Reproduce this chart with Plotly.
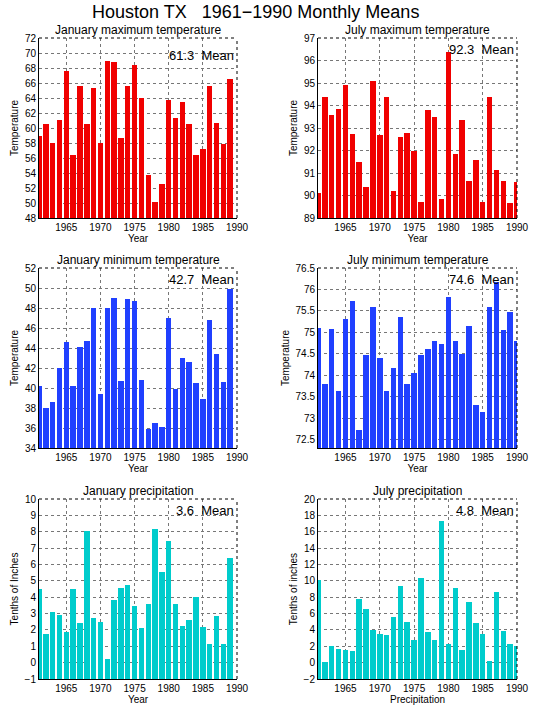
import plotly.graph_objects as go
from plotly.subplots import make_subplots

years = list(range(1961, 1991))

# January values: no 1990 bar in the reference
jan_max = [58.9, 60.6, 58.0, 61.1, 67.6, 56.4, 65.6, 60.6, 65.4, 58.0,
           69.0, 68.8, 58.7, 65.6, 68.4, 64.0, 53.7, 50.2, 52.6, 63.8,
           61.3, 63.5, 60.6, 56.4, 57.2, 65.6, 60.7, 57.9, 66.6, None]
jul_max = [90.1, 94.4, 93.56, 93.83, 94.9, 92.75, 91.5, 90.36, 95.07, 92.67,
           94.4, 90.2, 92.58, 92.8, 91.96, 89.7, 93.8, 93.47, 89.83, 96.36,
           91.83, 93.37, 90.63, 91.58, 89.7, 94.4, 91.12, 90.63, 89.65, 90.59]
jan_min = [40.17, 38.0, 38.57, 41.97, 44.57, 40.17, 44.07, 44.67, 48.0, 39.37,
           48.03, 48.97, 40.67, 48.9, 48.7, 40.8, 35.9, 36.5, 36.1, 47.0,
           39.93, 43.0, 42.6, 40.5, 38.93, 46.8, 43.4, 40.6, 49.9, None]
jul_min = [75.1, 73.8, 75.08, 73.62, 75.31, 75.73, 72.73, 74.46, 75.59, 74.39,
           73.62, 74.16, 75.36, 73.8, 74.06, 74.48, 74.62, 74.8, 74.72, 75.82,
           74.8, 74.5, 75.15, 73.31, 73.13, 75.59, 76.17, 75.05, 75.47, 74.8]
jan_prcp = [4.47, 1.76, 3.1, 2.92, 1.88, 4.51, 2.43, 8.04, 2.73, 2.49,
            0.22, 3.83, 4.55, 4.73, 3.47, 2.12, 3.59, 8.16, 5.55, 7.43,
            3.59, 2.24, 2.61, 4.0, 2.18, 1.14, 2.84, 1.14, 6.4, None]
jul_prcp = [10.04, 0.08, 2.03, 1.67, 1.54, 1.42, 7.76, 6.54, 3.98, 3.5,
            3.37, 5.57, 9.35, 4.96, 2.76, 10.33, 3.74, 2.76, 17.28, 2.28,
            9.1, 1.54, 7.4, 4.84, 3.5, 0.2, 8.62, 3.86, 2.28, 2.03]

titles = ["January maximum temperature", "July maximum temperature",
          "January minimum temperature", "July minimum temperature",
          "January precipitation", "July precipitation"]
mean_labels = ["61.3  Mean", "92.3  Mean", "42.7  Mean",
               "74.6  Mean", "3.6  Mean", "4.8  Mean"]
ylabels = ["Temperature", "Temperature", "Temperature", "Temperature",
           "Tenths of Inches", "Tenths of inches"]
xlabels = ["Year", "Year", "Year", "Year", "Year", "Precipitation"]
xticks = [1965, 1970, 1975, 1980, 1985, 1990]

RED = "rgb(240,0,0)"
BLUE = "rgb(32,64,255)"
CYAN = "rgb(0,204,204)"

W, H = 535, 711
FONT = "Liberation Sans"

# (values, color, ymin, ymax, dtick)
panels = [
    (jan_max, RED, 48, 72, 2),
    (jul_max, RED, 89, 97, 1),
    (jan_min, BLUE, 34, 52, 2),
    (jul_min, BLUE, 72.3, 76.5, 0.5),
    (jan_prcp, CYAN, -1, 10, 1),
    (jul_prcp, CYAN, -2, 20, 2),
]

# plot areas in pixels: (left, right), (top, bottom)
cols_px = [(39, 237), (318, 517)]
rows_px = [(38, 218), (268, 448), (499, 679)]
mean_dy = [18, 11, 11, 11, 11, 11]

fig = make_subplots(rows=3, cols=2)

annotations = []
shapes = []
for i, (vals, color, lo, hi, dt) in enumerate(panels):
    r, c = i // 2 + 1, i % 2 + 1
    x0, x1 = cols_px[c - 1]
    t, b = rows_px[r - 1]
    xd = [x0 / W, x1 / W]
    yd = [1 - b / H, 1 - t / H]

    fig.add_trace(
        go.Bar(
            x=years,
            y=[None if v is None else v - lo for v in vals],
            base=lo,
            width=0.8,
            marker=dict(color=color, line=dict(width=0)),
            showlegend=False,
        ),
        row=r, col=c,
    )

    fig.update_xaxes(
        domain=xd, range=[1961, 1990], tickvals=xticks,
        showgrid=True, gridcolor="#777", griddash="dot", gridwidth=1,
        showline=True, linecolor="black", linewidth=1, ticks="",
        zeroline=False, automargin=False,
        tickfont=dict(family=FONT, size=10, color="black"),
        title=dict(text=xlabels[i], standoff=0,
                   font=dict(family=FONT, size=10, color="black")),
        row=r, col=c,
    )
    fig.update_yaxes(
        domain=yd, range=[lo, hi], dtick=dt, tick0=0,
        showgrid=True, gridcolor="#777", griddash="dot", gridwidth=1,
        showline=True, linecolor="black", linewidth=1, ticks="",
        zeroline=False, automargin=False,
        tickfont=dict(family=FONT, size=10, color="black"),
        title=dict(text=ylabels[i], standoff=4,
                   font=dict(family=FONT, size=10, color="black")),
        row=r, col=c,
    )

    # dotted top and right frame
    shapes.append(dict(type="line", xref="paper", yref="paper",
                       x0=xd[0], x1=xd[1], y0=yd[1], y1=yd[1],
                       line=dict(color="black", width=1, dash="dot")))
    shapes.append(dict(type="line", xref="paper", yref="paper",
                       x0=xd[1], x1=xd[1], y0=yd[0], y1=yd[1],
                       line=dict(color="black", width=1, dash="dot")))

    annotations.append(dict(
        text=titles[i], xref="paper", yref="paper",
        x=(xd[0] + xd[1]) / 2, y=yd[1], yshift=0, borderpad=0,
        xanchor="center", yanchor="bottom", showarrow=False,
        font=dict(family=FONT, size=12, color="black"),
    ))
    annotations.append(dict(
        text=mean_labels[i], xref="paper", yref="paper",
        x=xd[1], y=1 - (t + mean_dy[i]) / H, xshift=-1,
        xanchor="right", yanchor="middle", showarrow=False,
        font=dict(family=FONT, size=13, color="black"),
    ))

annotations.append(dict(
    text="Houston TX   1961\u22121990 Monthly Means", xref="paper", yref="paper",
    x=255 / W, y=1 - 12 / H, xanchor="center", yanchor="middle", borderpad=0,
    showarrow=False, font=dict(family=FONT, size=18, color="black"),
))

fig.update_layout(
    width=W, height=H,
    margin=dict(l=0, r=0, t=0, b=0, pad=0),
    paper_bgcolor="white", plot_bgcolor="white",
    bargap=0, annotations=annotations, shapes=shapes,
    font=dict(family=FONT, color="black"),
)

fig.write_html("out.html", config={"displayModeBar": False},
               post_script="document.body.style.margin='0';")
